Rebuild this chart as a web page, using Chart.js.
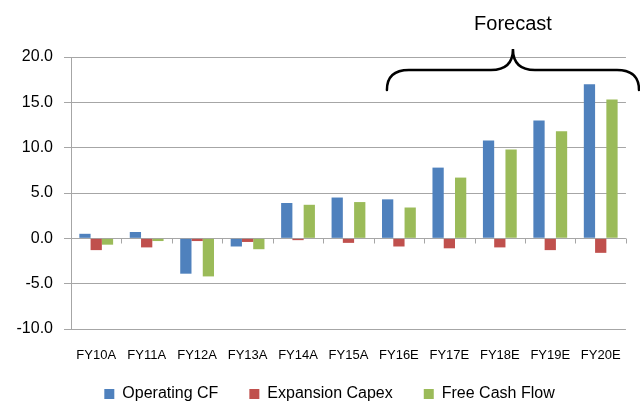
<!DOCTYPE html>
<html>
<head>
<meta charset="utf-8">
<script src="https://cdn.jsdelivr.net/npm/chart.js@4.4.1/dist/chart.umd.min.js"></script>
<style>
  html, body { margin: 0; padding: 0; background: #fff; }
  #wrap { width: 640px; height: 401px; position: relative; }
</style>
</head>
<body>
<div id="wrap"><canvas id="myChart"></canvas></div>
<script>
// chart data
const categories = ['FY10A', 'FY11A', 'FY12A', 'FY13A', 'FY14A', 'FY15A', 'FY16E', 'FY17E', 'FY18E', 'FY19E', 'FY20E'];
const operatingCF = [0.5, 0.7, -3.9, -0.9, 3.9, 4.5, 4.3, 7.8, 10.8, 13.0, 17.0];
const expansionCapex = [-1.3, -1.0, -0.3, -0.4, -0.2, -0.5, -0.9, -1.1, -1.0, -1.3, -1.6];
const freeCashFlow = [-0.7, -0.3, -4.2, -1.2, 3.7, 4.0, 3.4, 6.7, 9.8, 11.8, 15.3];
const seriesNames = ['Operating CF', 'Expansion Capex', 'Free Cash Flow'];
const yMin = -10;
const yMax = 20;
const yStep = 5;
const forecastLabel = 'Forecast';
const forecastStart = 6; // index of FY16E

const FONT = "'Liberation Sans', Arial, sans-serif";
const gridColor = '#a6a6a6';

// small ticks along the zero line between categories
const zeroTicks = {
  id: 'zeroTicks',
  afterDatasetsDraw(chart) {
    const { ctx } = chart;
    const x = chart.scales.x;
    const y0 = Math.round(chart.scales.y.getPixelForValue(0)) + 0.5;
    const step = x.width / categories.length;
    ctx.save();
    ctx.strokeStyle = gridColor;
    ctx.lineWidth = 1;
    ctx.beginPath();
    for (let i = 0; i <= categories.length; i++) {
      const px = Math.round(x.left + i * step) + 0.5;
      ctx.moveTo(px, y0);
      ctx.lineTo(px, y0 + 5);
    }
    ctx.stroke();
    ctx.restore();
  }
};

// nudge the legend a bit (closer to the axis labels, a little to the right)
const legendNudge = {
  id: 'legendNudge',
  afterLayout(chart) {
    const lg = chart.legend;
    if (!lg) return;
    lg.top -= 14;
    lg.left += 14; lg.right += 14;
  }
};

// curly brace + "Forecast" label
const forecastBrace = {
  id: 'forecastBrace',
  afterDraw(chart) {
    const { ctx, chartArea } = chart;
    const x = chart.scales.x;
    const L = x.getPixelForValue(forecastStart) - 12;
    const R = chart.width - 1;
    const C = (L + R) / 2;
    const yt = chartArea.top - 8;
    const ym = chartArea.top + 13;
    const yb = chartArea.top + 33;
    const r = 22;
    ctx.save();
    ctx.strokeStyle = '#000';
    ctx.lineWidth = 2.5;
    ctx.lineCap = 'round';
    ctx.beginPath();
    ctx.moveTo(L, yb);
    ctx.quadraticCurveTo(L, ym, L + r, ym);
    ctx.lineTo(C - r, ym);
    ctx.quadraticCurveTo(C, ym, C, yt);
    ctx.quadraticCurveTo(C, ym, C + r, ym);
    ctx.lineTo(R - r, ym);
    ctx.quadraticCurveTo(R, ym, R, yb);
    ctx.stroke();
    ctx.fillStyle = '#000';
    ctx.font = '20px ' + FONT;
    ctx.textAlign = 'center';
    ctx.textBaseline = 'middle';
    ctx.fillText(forecastLabel, C, chartArea.top - 33);
    ctx.restore();
  }
};

const ctx = document.getElementById('myChart').getContext('2d');

const data = {
  labels: categories,
  datasets: [
    { label: seriesNames[0], data: operatingCF, backgroundColor: '#4f81bd' },
    { label: seriesNames[1], data: expansionCapex, backgroundColor: '#c0504d' },
    { label: seriesNames[2], data: freeCashFlow, backgroundColor: '#9bbb59' }
  ]
};

const config = {
  type: 'bar',
  data: data,
  options: {
    responsive: true,
    maintainAspectRatio: false,
    animation: false,
    layout: { padding: { top: 57, left: 0, right: 9, bottom: 0 } },
    datasets: {
      bar: { categoryPercentage: 0.67, barPercentage: 1.0 }
    },
    scales: {
      x: {
        grid: { display: false, drawTicks: false },
        border: { display: false },
        ticks: { color: '#000', font: { family: FONT, size: 13 }, padding: 19, maxRotation: 0, autoSkip: false },
        afterFit(scale) { scale.height = 40; }
      },
      y: {
        min: yMin,
        max: yMax,
        grid: { color: gridColor, tickLength: 7, drawTicks: true },
        border: { color: gridColor },
        ticks: {
          stepSize: yStep,
          color: '#000',
          font: { family: FONT, size: 16 },
          padding: 11,
          callback: (v) => Number(v).toFixed(1)
        },
        afterFit(scale) { scale.width = 71; }
      }
    },
    plugins: {
      legend: {
        position: 'bottom',
        maxHeight: 32,
        labels: {
          color: '#000',
          font: { family: FONT, size: 16 },
          boxWidth: 10,
          boxHeight: 10,
          padding: 31
        }
      },
      tooltip: { enabled: false }
    }
  },
  plugins: [zeroTicks, legendNudge, forecastBrace]
};

const myChart = new Chart(ctx, config);
</script>
</body>
</html>
